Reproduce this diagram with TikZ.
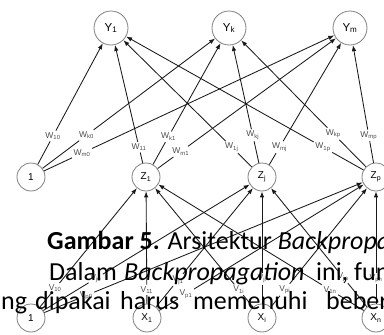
\documentclass[tikz,border=0pt]{standalone}
\usepackage{fontspec}
\setmainfont{Carlito}
\newfontfamily\arialf{Liberation Sans}
\usetikzlibrary{calc,arrows.meta}
\begin{document}
\begin{tikzpicture}[x=1pt,y=-1pt,
  neuron/.style={circle,draw=black!50,line width=0.8pt,inner sep=0pt},
  bigneuron/.style={neuron,minimum size=34pt,font=\arialf\fontsize{11.5}{11.5}\selectfont},
  smallneuron/.style={neuron,minimum size=28pt,font=\arialf\fontsize{10}{10}\selectfont},
  wlbl/.style={inner sep=1.5pt,font=\arialf\fontsize{8.5}{8.5}\selectfont,text=black!70},
  conn/.style={draw=black!90,line width=0.85pt},
  arr/.style={conn,-{Latex[length=6pt,width=4.5pt]}},
  body/.style={anchor=base west,inner sep=0pt,font=\fontsize{26}{26}\selectfont}
]
\useasboundingbox (0,0) rectangle (384,335);
\clip (0,0) rectangle (384,335);
% top layer
\node[bigneuron] (Y1) at (111,28) {Y\textsubscript{1}};
\node[bigneuron] (Yk) at (229,28) {Y\textsubscript{k}};
\node[bigneuron] (Ym) at (350,28) {Y\textsubscript{m}};
% hidden layer
\node[smallneuron] (B1) at (31,177) {1};
\node[smallneuron] (Z1) at (146,177) {Z\textsubscript{1}};
\node[smallneuron] (Zj) at (262,177) {Z\textsubscript{j}};
\node[smallneuron] (Zp) at (376,177) {Z\textsubscript{p}};
% input layer
\node[smallneuron] (B0) at (31,318) {1};
\node[smallneuron] (X1) at (147,318) {X\textsubscript{1}};
\node[smallneuron] (Xi) at (262,318) {X\textsubscript{i}};
\node[smallneuron] (Xn) at (376,318) {X\textsubscript{n}};
% connections with labels
\foreach \s/\t/\f/\lab in {
  B1/Y1/0.275/W\textsubscript{10}, B1/Yk/0.28/W\textsubscript{k0}, B1/Ym/0.16/W\textsubscript{m0},
  Z1/Y1/0.2/W\textsubscript{11}, Z1/Yk/0.27/W\textsubscript{k1}, Z1/Ym/0.17/W\textsubscript{m1},
  Zj/Y1/0.2/W\textsubscript{1j}, Zj/Yk/0.28/W\textsubscript{kj}, Zj/Ym/0.2/W\textsubscript{mj},
  Zp/Y1/0.2/W\textsubscript{1p}, Zp/Yk/0.29/W\textsubscript{kp}, Zp/Ym/0.28/W\textsubscript{mp},
  B0/Z1/0.21/V\textsubscript{10}, B0/Zj/0.28/V\textsubscript{j0}, B0/Zp/0.16/V\textsubscript{p0},
  X1/Z1/0.2/V\textsubscript{11}, X1/Zj/0.27/V\textsubscript{j1}, X1/Zp/0.17/V\textsubscript{p1},
  Xi/Z1/0.2/V\textsubscript{1i}, Xi/Zj/0.28/V\textsubscript{ji}, Xi/Zp/0.2/V\textsubscript{pi},
  Xn/Z1/0.2/V\textsubscript{1n}, Xn/Zj/0.29/V\textsubscript{jn}, Xn/Zp/0.28/V\textsubscript{pn}}
{
  \node[wlbl] (l\s\t) at ($(\s)!\f!(\t)$) {\lab};
  \draw[conn] (\s) -- (l\s\t);
  \draw[arr] (l\s\t) -- (\t);
}
% overlaid text
\node[body] (cap) at (47,249) {\textbf{Gambar 5.} Arsitektur \textit{Backpropagation}};
\node[body] (t1) at (49,280) {Dalam};
\node[body] (t2) at (124,280) {\textit{Backpropagation}};
\node[body] (t3) at (316,280) {ini,};
\node[body] (t4) at (354,280) {fungsi};
\node[body] (u1) at (1,309) {ng};
\node[body] (u2) at (35,309) {dipakai};
\node[body] (u3) at (120,309) {harus};
\node[body] (u4) at (193,309) {memenuhi};
\node[body] (u5) at (326,309) {beberapa};
\end{tikzpicture}
\end{document}
